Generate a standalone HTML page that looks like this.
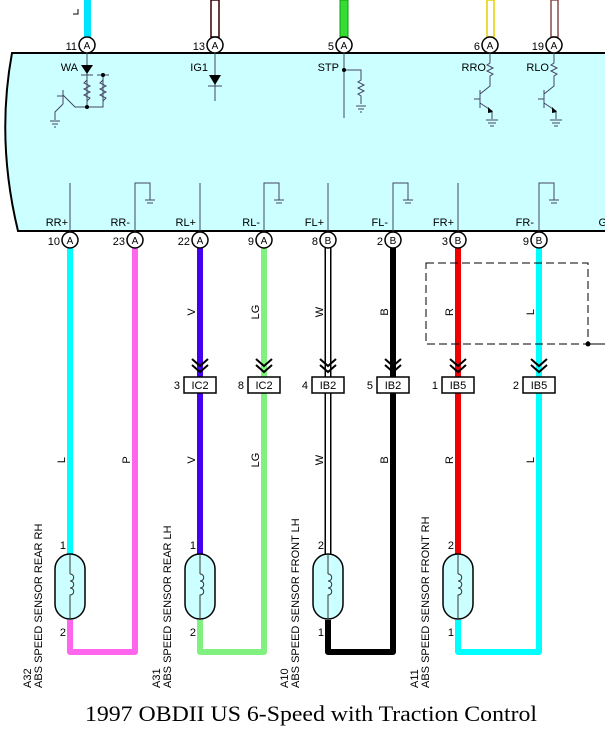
<!DOCTYPE html>
<html><head><style>body{margin:0;background:#fff}svg{display:block}text{font-family:"Liberation Sans",sans-serif}</style></head><body>
<svg width="605" height="743" viewBox="0 0 605 743" xmlns="http://www.w3.org/2000/svg">
<path d="M605,53 L12,53 Q-4,140 18,231 L605,231" fill="#ccffff" stroke="#000" stroke-width="2"/>
<rect x="84" y="0" width="7" height="37" fill="#00e5ff"/>
<path d="M73,14 h5 v-5" stroke="#000" fill="none" stroke-width="1"/>
<rect x="211" y="0" width="8" height="37" fill="#fff" stroke="#300" stroke-width="1.5"/>
<rect x="340" y="0" width="8" height="37" fill="#33dd33" stroke="#119911" stroke-width="1"/>
<rect x="487" y="0" width="7" height="37" fill="#fff" stroke="#e6d000" stroke-width="1.5"/>
<rect x="551" y="0" width="7" height="37" fill="#fff" stroke="#8a4a4a" stroke-width="1.5"/>
<g font-size="11" fill="#000">
<g stroke="#000" stroke-width="1.5" fill="#fff">
<circle cx="87" cy="45" r="8"/><circle cx="215" cy="45" r="8"/><circle cx="344" cy="45" r="8"/><circle cx="490" cy="45" r="8"/><circle cx="554" cy="45" r="8"/>
</g>
<g text-anchor="middle" font-size="10"><text x="87" y="49">A</text><text x="215" y="49">A</text><text x="344" y="49">A</text><text x="490" y="49">A</text><text x="554" y="49">A</text></g>
<g text-anchor="end"><text x="77" y="50">11</text><text x="205" y="50">13</text><text x="334" y="50">5</text><text x="480" y="50">6</text><text x="544" y="50">19</text></g>
<g text-anchor="end"><text x="78" y="71">WA</text><text x="208" y="71">IG1</text><text x="339" y="71">STP</text><text x="486" y="71">RRO</text><text x="549" y="71">RLO</text></g>
</g>
<g stroke="#446" stroke-width="1" fill="none">
<path d="M87,53 v54 M87,107 h-12 l-12,-12 M63,90 v14 M57,96 h6 M63,104 l-8,8 v8 M87,107 h16 v-32 M97,75 h12 M81,75 h12"/>
<path d="M87,80 l-3,3 6,3 -6,3 6,3 -6,3 6,3 -3,3 M103,80 l-3,3 6,3 -6,3 6,3 -6,3 6,3 -3,3"/>
<path d="M50,121 h10 M52,124 h6 M54,127 h2"/>
<path d="M215,53 v48 M208,86 h14"/>
<path d="M344,53 v65 M344,70 h17 v10 l-3,2 6,3 -6,3 6,3 -6,3 3,2 v8 M356,106 h10 M358,109 h6 M360,112 h2"/>
<path d="M490,53 v10 l-3,2 6,3 -6,3 6,3 -3,2 v10 l-10,8 M480,90 v18 M474,99 h6 M480,103 l12,8 v8 M486,120 h12 M488,123 h8 M490,126 h4"/>
<path d="M554,53 v10 l-3,2 6,3 -6,3 6,3 -3,2 v10 l-10,8 M544,90 v18 M538,99 h6 M544,103 l12,8 v8 M550,120 h12 M552,123 h8 M554,126 h4"/>
</g>
<g fill="#000"><path d="M81,65 h12 l-6,9z"/><path d="M209,75 h12 l-6,10z"/><circle cx="87" cy="107" r="2"/><circle cx="103" cy="75" r="2"/><circle cx="344" cy="70" r="2"/><path d="M488,107 l5,5 -5,1z"/><path d="M552,107 l5,5 -5,1z"/></g>
<g stroke="#446" stroke-width="1" fill="none">
<path d="M70,183 v48 M200,183 v48 M328,183 v48 M458,183 v48"/>
<path d="M135,231 v-48 h15 v17 M145,200 h10 M147,203 h6"/>
<path d="M264,231 v-48 h15 v17 M274,200 h10 M276,203 h6"/>
<path d="M393,231 v-48 h15 v17 M403,200 h10 M405,203 h6"/>
<path d="M539,231 v-48 h15 v17 M549,200 h10 M551,203 h6"/>
</g>
<g font-size="11" text-anchor="end"><text x="68" y="226">RR+</text><text x="130" y="226">RR-</text><text x="196" y="226">RL+</text><text x="260" y="226">RL-</text><text x="324" y="226">FL+</text><text x="388" y="226">FL-</text><text x="454" y="226">FR+</text><text x="534" y="226">FR-</text><text x="607" y="226">G</text></g>
<g fill="none" stroke-width="6" stroke-linejoin="round">
<path d="M70,248 V555" stroke="#00ffff"/>
<path d="M70,620 V652 H135 V248" stroke="#ff66ee"/>
<path d="M200,248 V555" stroke="#4400ee"/>
<path d="M200,620 V652 H264 V248" stroke="#80f080"/>
<path d="M328,620 V652 H393 V248" stroke="#000"/>
<path d="M458,248 V555" stroke="#ee0000"/>
<path d="M458,620 V652 H539 V248" stroke="#00ffff"/>
</g>
<path d="M328,248 V555" stroke="#000" stroke-width="7"/><path d="M328,248 V555" stroke="#fff" stroke-width="4"/>
<g stroke="#000" stroke-width="1.5" fill="#fff">
<circle cx="70" cy="240" r="8"/><circle cx="135" cy="240" r="8"/><circle cx="200" cy="240" r="8"/><circle cx="264" cy="240" r="8"/><circle cx="328" cy="240" r="8"/><circle cx="393" cy="240" r="8"/><circle cx="458" cy="240" r="8"/><circle cx="539" cy="240" r="8"/>
</g>
<g font-size="10" text-anchor="middle"><text x="70" y="244">A</text><text x="135" y="244">A</text><text x="200" y="244">A</text><text x="264" y="244">A</text><text x="328" y="244">B</text><text x="393" y="244">B</text><text x="458" y="244">B</text><text x="539" y="244">B</text></g>
<g font-size="11" text-anchor="end"><text x="60" y="245">10</text><text x="125" y="245">23</text><text x="190" y="245">22</text><text x="254" y="245">9</text><text x="318" y="245">8</text><text x="383" y="245">2</text><text x="448" y="245">3</text><text x="529" y="245">9</text></g>
<rect x="426" y="263" width="162" height="81" fill="none" stroke="#000" stroke-dasharray="8,4"/>
<path d="M588,344 H605" stroke="#000"/><circle cx="588" cy="344" r="2.5"/>
<g stroke="#000" stroke-width="2" fill="none">
<path d="M192,359 l8,7 8,-7 M192,365 l8,7 8,-7"/><path d="M256,359 l8,7 8,-7 M256,365 l8,7 8,-7"/><path d="M320,359 l8,7 8,-7 M320,365 l8,7 8,-7"/><path d="M385,359 l8,7 8,-7 M385,365 l8,7 8,-7"/><path d="M450,359 l8,7 8,-7 M450,365 l8,7 8,-7"/><path d="M531,359 l8,7 8,-7 M531,365 l8,7 8,-7"/>
</g>
<g stroke="#000" stroke-width="1.5" fill="#fff">
<rect x="184" y="377" width="32" height="16"/><rect x="248" y="377" width="32" height="16"/><rect x="312" y="377" width="32" height="16"/><rect x="377" y="377" width="32" height="16"/><rect x="442" y="377" width="32" height="16"/><rect x="523" y="377" width="32" height="16"/>
</g>
<g font-size="11" text-anchor="middle"><text x="200" y="389">IC2</text><text x="264" y="389">IC2</text><text x="328" y="389">IB2</text><text x="393" y="389">IB2</text><text x="458" y="389">IB5</text><text x="539" y="389">IB5</text></g>
<g font-size="11" text-anchor="end"><text x="180" y="389">3</text><text x="244" y="389">8</text><text x="308" y="389">4</text><text x="373" y="389">5</text><text x="438" y="389">1</text><text x="519" y="389">2</text></g>
<g font-size="11" text-anchor="middle">
<text transform="translate(195,312) rotate(-90)">V</text><text transform="translate(259,312) rotate(-90)">LG</text><text transform="translate(323,312) rotate(-90)">W</text><text transform="translate(388,312) rotate(-90)">B</text><text transform="translate(453,312) rotate(-90)">R</text><text transform="translate(534,312) rotate(-90)">L</text>
<text transform="translate(65,460) rotate(-90)">L</text><text transform="translate(130,460) rotate(-90)">P</text><text transform="translate(195,460) rotate(-90)">V</text><text transform="translate(259,460) rotate(-90)">LG</text><text transform="translate(323,460) rotate(-90)">W</text><text transform="translate(388,460) rotate(-90)">B</text><text transform="translate(453,460) rotate(-90)">R</text><text transform="translate(534,460) rotate(-90)">L</text>
</g>
<g stroke="#000" stroke-width="1.5" fill="#ccffff">
<rect x="55" y="554" width="30" height="65" rx="15"/><rect x="185" y="554" width="30" height="65" rx="15"/><rect x="313" y="554" width="30" height="65" rx="15"/><rect x="443" y="554" width="30" height="65" rx="15"/>
</g>
<g stroke="#333" stroke-width="1" fill="none">
<path d="M70,554 v20 m0,0 c5,0 5,7 0,7 c5,0 5,7 0,7 c5,0 5,7 0,7 v24"/>
<path d="M200,554 v20 m0,0 c5,0 5,7 0,7 c5,0 5,7 0,7 c5,0 5,7 0,7 v24"/>
<path d="M328,554 v20 m0,0 c5,0 5,7 0,7 c5,0 5,7 0,7 c5,0 5,7 0,7 v24"/>
<path d="M458,554 v20 m0,0 c5,0 5,7 0,7 c5,0 5,7 0,7 c5,0 5,7 0,7 v24"/>
</g>
<g font-size="11" text-anchor="end"><text x="66" y="549">1</text><text x="66" y="636">2</text><text x="196" y="549">1</text><text x="196" y="636">2</text><text x="324" y="549">2</text><text x="324" y="636">1</text><text x="454" y="549">2</text><text x="454" y="636">1</text></g>
<g font-size="11">
<text transform="translate(42,688) rotate(-90)">ABS SPEED SENSOR REAR RH</text><text transform="translate(31,688) rotate(-90)">A32</text>
<text transform="translate(171,688) rotate(-90)">ABS SPEED SENSOR REAR LH</text><text transform="translate(160,688) rotate(-90)">A31</text>
<text transform="translate(299,688) rotate(-90)">ABS SPEED SENSOR FRONT LH</text><text transform="translate(288,688) rotate(-90)">A10</text>
<text transform="translate(429,688) rotate(-90)">ABS SPEED SENSOR FRONT RH</text><text transform="translate(418,688) rotate(-90)">A11</text>
</g>
<text x="85" y="721" style="font-family:'Liberation Serif',serif;font-size:22px" textLength="452" lengthAdjust="spacingAndGlyphs">1997 OBDII US 6-Speed with Traction Control</text>
</svg>
</body></html>
